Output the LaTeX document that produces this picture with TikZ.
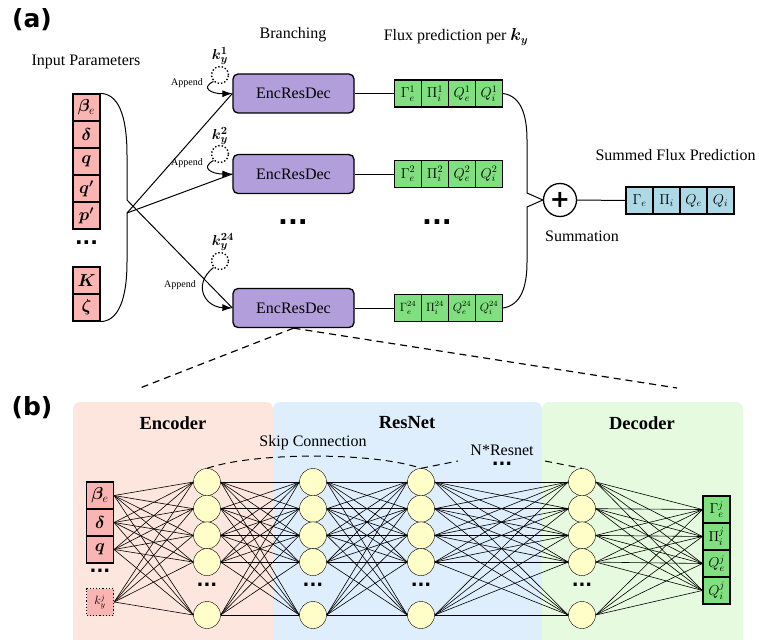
\documentclass[tikz,border=0pt]{standalone}
\usepackage{amsmath,amssymb,bm}
\usepackage{fontspec}
\setmainfont{Liberation Serif}
\newfontfamily\labelfont{DejaVu Sans}
\usetikzlibrary{positioning,arrows.meta}

\definecolor{inpink}{RGB}{250,180,178}
\definecolor{fluxgreen}{RGB}{128,224,128}
\definecolor{sumblue}{RGB}{173,216,230}
\definecolor{encpurple}{RGB}{178,158,218}
\definecolor{neuronyellow}{RGB}{255,253,200}
\definecolor{encbg}{RGB}{253,230,222}
\definecolor{resbg}{RGB}{222,238,252}
\definecolor{decbg}{RGB}{230,250,224}

\tikzset{
  cell/.style={draw,line width=1.2pt,minimum width=27pt,minimum height=27pt,inner sep=0pt},
  incell/.style={cell,fill=inpink,font=\fontsize{17}{17}\selectfont},
  fluxcell/.style={cell,fill=fluxgreen,font=\fontsize{14}{14}\selectfont},
  sumcell/.style={cell,fill=sumblue,font=\fontsize{14.5}{14.5}\selectfont},
  encresdec/.style={draw,line width=1.3pt,rounded corners=5pt,fill=encpurple,
    minimum width=121pt,minimum height=39pt},
  neuron/.style={circle,draw,fill=neuronyellow,minimum size=27pt,inner sep=0pt},
  kyloop/.style={circle,draw,dotted,line width=1.4pt,minimum size=17pt,inner sep=0pt},
  kylabel/.style={font=\fontsize{15}{15}\selectfont},
  appendtxt/.style={font=\fontsize{10}{10}\selectfont},
  heavydots/.style={font=\labelfont\bfseries\fontsize{20}{20}\selectfont},
  smalldots/.style={font=\labelfont\bfseries\fontsize{18}{18}\selectfont},
  bigdots/.style={font=\labelfont\bfseries\fontsize{26}{26}\selectfont},
  panel/.style={font=\bfseries\fontsize{18.5}{20}\selectfont},
  partlabel/.style={font=\labelfont\bfseries\fontsize{25}{25}\selectfont},
  wire/.style={line width=1pt},
  net/.style={line width=0.6pt},
  zoomline/.style={line width=1.2pt,dash pattern=on 7pt off 5pt}
}

\begin{document}
\begin{tikzpicture}[x=1pt,y=-1pt,font=\fontsize{16}{18}\selectfont]
  \useasboundingbox (0,0) rectangle (759,639);

  % panels of (b)
  \fill[encbg,rounded corners=7pt] (73,402) rectangle (273,660);
  \fill[resbg,rounded corners=7pt] (273,402) rectangle (542,660);
  \fill[decbg,rounded corners=7pt] (542,402) rectangle (743,660);

  \node[partlabel] (pa) at (32,20) {(a)};
  \node[partlabel] (pb) at (32,408) {(b)};

  % input parameters
  \node (intitle) at (86,62) {Input Parameters};
  \foreach \s [count=\i] in {{\bm{\beta}_e},{\bm{\delta}},{\bm{q}},{\bm{q^\prime}},{\bm{p^\prime}}}
    \node[incell] (in\i) at (86.5,{80.5+27*\i}) {$\s$};
  \node[heavydots] (indots) at (86.5,243) {...};
  \node[incell] (kappa) at (86.5,280.5) {$\bm{K}$};
  \node[incell] (zeta) at (86.5,307.5) {$\bm{\zeta}$};

  \draw[wire] (in1.north east) .. controls (122,94) and (127,125) .. (127,155) -- (127,200) coordinate (bup);
  \draw[wire] (zeta.south east) .. controls (122,321) and (127,290) .. (127,262) -- (127,213) coordinate (blow);

  % branching
  \node (branching) at (293,35) {Branching};
  \node[encresdec] (enc1) at (293.5,93.5) {EncResDec};
  \node[encresdec] (enc2) at (293.5,174) {EncResDec};
  \node[bigdots] (encdots) at (293,222) {...};
  \node[encresdec] (enc24) at (293.5,308) {EncResDec};

  \draw[wire] (blow) -- (enc1.west);
  \draw[wire] (blow) -- (enc2.west);
  \draw[wire] (bup) -- (enc24.west);

  % k_y appended to each branch
  \node[kyloop] (ky1) at (220,75) {};
  \node[kylabel] at (220,56) {$\bm{k_y^1}$};
  \node[appendtxt] (ap1) at (187,83) {Append};
  \draw[wire,-{Latex[length=10pt,width=7pt]}] (ky1.south west) .. controls (200,88) and (212,94) .. (enc1.west);

  \node[kyloop] (ky2) at (220,154) {};
  \node[kylabel] at (220,136) {$\bm{k_y^2}$};
  \node[appendtxt] (ap2) at (187,163) {Append};
  \draw[wire,-{Latex[length=10pt,width=7pt]}] (ky2.south west) .. controls (200,168) and (212,174) .. (enc2.west);

  \node[kyloop] (ky24) at (220,261) {};
  \node[kylabel] at (223,242) {$\bm{k_y^{24}}$};
  \node[appendtxt] (ap24) at (180,285) {Append};
  \draw[wire,-{Latex[length=10pt,width=7pt]}] (ky24.south west) .. controls (192,285) and (205,307) .. (enc24.west);

  % flux per k_y
  \node (fluxtitle) at (456,37) {Flux prediction per $\bm{k_y}$};
  \foreach \r/\y/\fs in {1/93.5/14,2/174/14,24/308/12}{
    \foreach \s [count=\c] in {\Gamma_e,\Pi_i,Q_e,Q_i}
      \node[fluxcell,font=\fontsize{\fs}{\fs}\selectfont] (f\r-\c) at ({381+27*\c},\y) {$\s^{\r}$};
    \draw[wire] (enc\r.east) -- (f\r-1.west);
  }
  \node[bigdots] (fluxdots) at (437,222) {...};

  % summation
  \node[circle,draw,line width=1.3pt,minimum size=33pt,inner sep=0pt,
        font=\labelfont\bfseries\fontsize{24}{24}\selectfont] (plus) at (560,200) {+};
  \node (sumtxt) at (582,236) {Summation};
  \draw[wire] (f1-4.east) .. controls (521,96) and (527,115) .. (527,140) -- (527,193) -- (plus.west)
     -- (527,207) -- (527,262) .. controls (527,287) and (521,305) .. (f24-4.east);

  \node[anchor=west] (sumtitle) at (592,155) {Summed Flux Prediction};
  \foreach \s [count=\c] in {\Gamma_e,\Pi_i,Q_e,Q_i}
    \node[sumcell] (s\c) at ({612.5+27*\c},200.5) {$\s$};
  \draw[wire] (plus.east) -- (s1.west);

  % zoom into one branch
  \coordinate (zl) at (140,388);
  \coordinate (zr) at (677,388);
  \draw[zoomline] (enc24.south) -- (zl);
  \draw[zoomline] (enc24.south) -- (zr);

  % (b) network
  \node[panel] (enctitle) at (173,423) {Encoder};
  \node[panel] (restitle) at (407,423) {ResNet};
  \node[panel] (dectitle) at (642,423) {Decoder};

  \foreach \s [count=\i] in {{\bm{\beta}_e},{\bm{\delta}},{\bm{q}}}
    \node[incell] (x\i) at (100,{468.5+27*\i}) {$\s$};
  \node[smalldots] (xdots) at (100,571) {...};
  \node[incell,dotted,line width=1.4pt,font=\fontsize{12}{12}\selectfont] (x4) at (100,602) {$k_y^j$};

  \foreach \col/\x in {1/207,2/313,3/421,4/582}{
    \foreach \row/\y in {1/482,2/508.7,3/535.4,4/562.1,5/615}
      \node[neuron] (n\col-\row) at (\x,\y) {};
    \node[smalldots] (ndots\col) at (\x,585) {...};
  }

  \foreach \s [count=\i] in {\Gamma_e,\Pi_i,Q_e,Q_i}
    \node[fluxcell] (o\i) at (716.5,{482.5+27*\i}) {$\s^j$};

  \foreach \i in {1,...,4}
    \foreach \j in {1,...,5}
      \draw[net] (x\i.east) -- (n1-\j.west);
  \foreach \a/\b in {1/2,2/3,3/4}
    \foreach \i in {1,...,5}
      \foreach \j in {1,...,5}
        \draw[net] (n\a-\i.east) -- (n\b-\j.west);
  \foreach \i in {1,...,5}
    \foreach \j in {1,...,4}
      \draw[net] (n4-\i.east) -- (o\j.west);

  % skip connection and repeated blocks
  \node (skiptxt) at (313,443) {Skip Connection};
  \draw[zoomline,line width=1pt] (n1-1.north) .. controls (255,452) and (373,452) .. (n3-1.north);
  \node (nres) at (502,450) {N*Resnet};
  \node[smalldots] (resdots) at (502,464) {...};
  \coordinate (rl) at (458,461);
  \coordinate (rr) at (545,461);
  \draw[zoomline,line width=1pt] (n3-1.north) -- (rl);
  \draw[zoomline,line width=1pt] (rr) -- (n4-1.north);
\end{tikzpicture}
\end{document}
